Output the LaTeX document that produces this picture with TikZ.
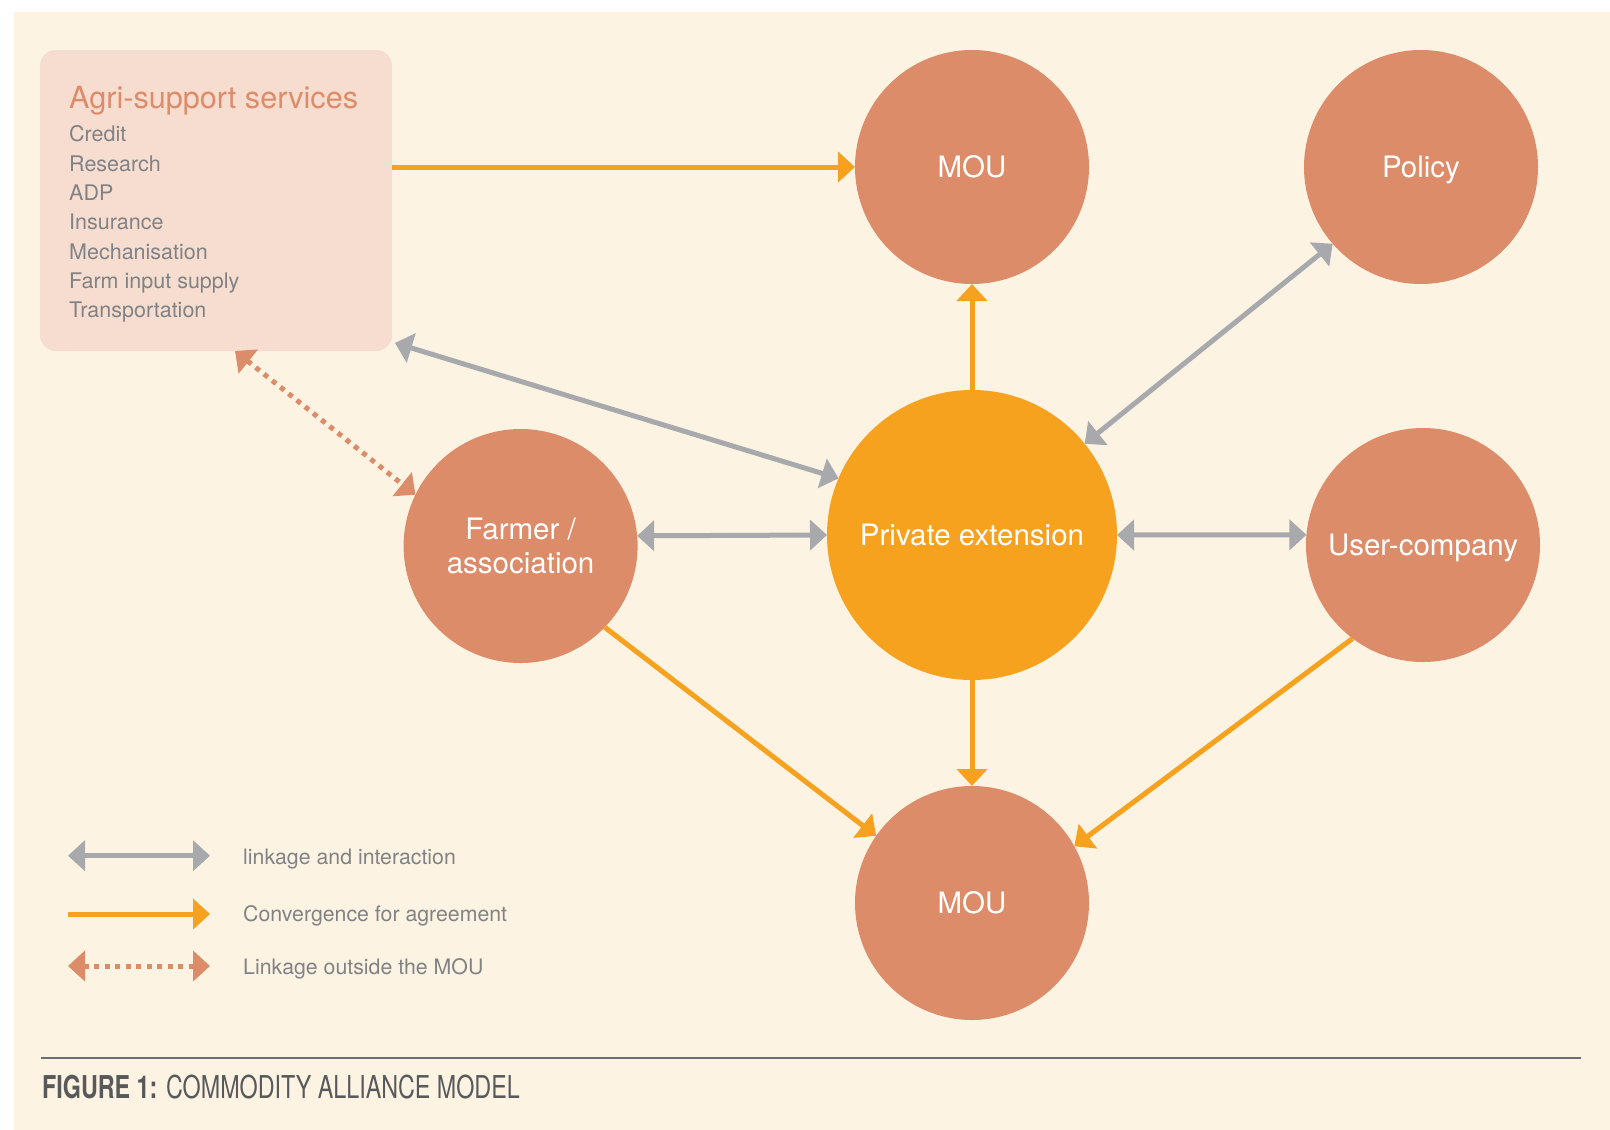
\documentclass[tikz,border=0pt]{standalone}
\usepackage{fontspec}
\setmainfont{TeX Gyre Heros}
\newfontfamily\capfont[FakeStretch=0.74]{TeX Gyre Heros}
\usetikzlibrary{arrows.meta}
\definecolor{cream}{HTML}{FDF3E3}
\definecolor{boxfill}{HTML}{F6DDCF}
\definecolor{salmon}{HTML}{DD8C6A}
\definecolor{orng}{HTML}{F7A21F}
\definecolor{grayarr}{HTML}{A7A9AC}
\definecolor{graytxt}{HTML}{808285}
\definecolor{captxt}{HTML}{58595B}
\definecolor{rulegray}{HTML}{6D6E71}
\tikzset{
  circnode/.style={circle, fill=salmon, minimum size=234pt, inner sep=0pt, outer sep=0pt,
    text=white, align=center, font=\fontsize{29.5}{34.5}\selectfont},
  pecirc/.style={circnode, fill=orng, minimum size=290pt},
  agribox/.style={rectangle, rounded corners=16pt, fill=boxfill, minimum width=352pt,
    minimum height=301pt, inner sep=0pt, outer sep=0pt},
  itemtxt/.style={anchor=base west, inner sep=0pt, text=graytxt, font=\fontsize{21.5}{25}\selectfont},
  legtxt/.style={anchor=base west, inner sep=0pt, text=graytxt, font=\fontsize{21.3}{25}\selectfont},
  graylink/.style={draw=grayarr, line width=5pt,
    arrows={Triangle[width=30pt,length=17pt]-Triangle[width=30pt,length=17pt]}},
  orangeconv/.style={draw=orng, line width=5pt, arrows={-Triangle[width=30pt,length=17pt]}},
  dotlink/.style={draw=salmon, line width=5pt, dash pattern=on 5pt off 5.5pt,
    arrows={Triangle[width=30pt,length=17pt]-Triangle[width=30pt,length=17pt]}},
}
\begin{document}
\begin{tikzpicture}[x=1pt,y=-1pt]
\useasboundingbox (0,0) rectangle (1610,1130);
\fill[white] (0,0) rectangle (1610,1130);
\fill[cream] (14,12) rectangle (1610,1130);

% agri-support box
\node[agribox] (agri) at (216,200.5) {};
\node[anchor=base west, inner sep=0pt, text=salmon, font=\fontsize{30.6}{34}\selectfont] (agtitle) at (69,108) {Agri-support services};
\node[itemtxt] (it1) at (69,141.7) {Credit};
\node[itemtxt] (it2) at (69,171) {Research};
\node[itemtxt] (it3) at (69,200) {ADP};
\node[itemtxt] (it4) at (69,229) {Insurance};
\node[itemtxt] (it5) at (69,259) {Mechanisation};
\node[itemtxt] (it6) at (69,288) {Farm input supply};
\node[itemtxt] (it7) at (69,317) {Transportation};

% circles
\node[circnode] (moutop) at (972,167) {MOU};
\node[circnode, text depth=0pt] (policy) at (1421,167) {Policy};
\node[pecirc] (pe) at (972,535) {Private extension};
\node[circnode] (farmer) at (520.6,546) {Farmer /\\association};
\node[circnode, text depth=0pt] (user) at (1423,545) {User-company};
\node[circnode] (moub) at (972,903) {MOU};

% connectors
\draw[orangeconv] (agri.east |- moutop.west) -- (moutop.west);
\draw[orangeconv] (pe.north) -- (moutop.south);
\draw[orangeconv] (pe.south) -- (moub.north);
\draw[orangeconv] (farmer.-44.5) -- (moub.145.6);
\draw[orangeconv] (user.-127.5) -- (moub.29.1);

\draw[graylink] ([xshift=3pt,yshift=8pt]agri.south east) -- (pe.157.6);
\draw[graylink] (pe.39.6) -- (policy.-139.6);
\draw[graylink] (farmer.5.4) -- (pe.180);
\draw[graylink] (pe.0) -- (user.175.1);

\draw[dotlink] ([xshift=19pt]agri.south) -- (farmer.154.7);

% legend
\coordinate (l1a) at (68,855.7); \coordinate (l1b) at (210,855.7);
\coordinate (l2a) at (68,914);   \coordinate (l2b) at (210,914);
\coordinate (l3a) at (68,966);   \coordinate (l3b) at (210,966);
\draw[graylink] (l1a) -- (l1b);
\draw[orangeconv] (l2a) -- (l2b);
\draw[dotlink] (l3a) -- (l3b);
\node[legtxt] (lt1) at (243,864) {linkage and interaction};
\node[legtxt] (lt2) at (243,921.7) {Convergence for agreement};
\node[legtxt] (lt3) at (243,974) {Linkage outside the MOU};

% caption
\coordinate (ruleA) at (41,1058); \coordinate (ruleB) at (1581,1058);
\draw[rulegray, line width=2.7pt] (ruleA) -- (ruleB);
\node[anchor=base west, inner sep=0pt, text=captxt, font=\capfont\fontsize{31.5}{36}\selectfont] (cap) at (42,1098)
  {{\bfseries FIGURE 1:} COMMODITY ALLIANCE MODEL};
\end{tikzpicture}
\end{document}
